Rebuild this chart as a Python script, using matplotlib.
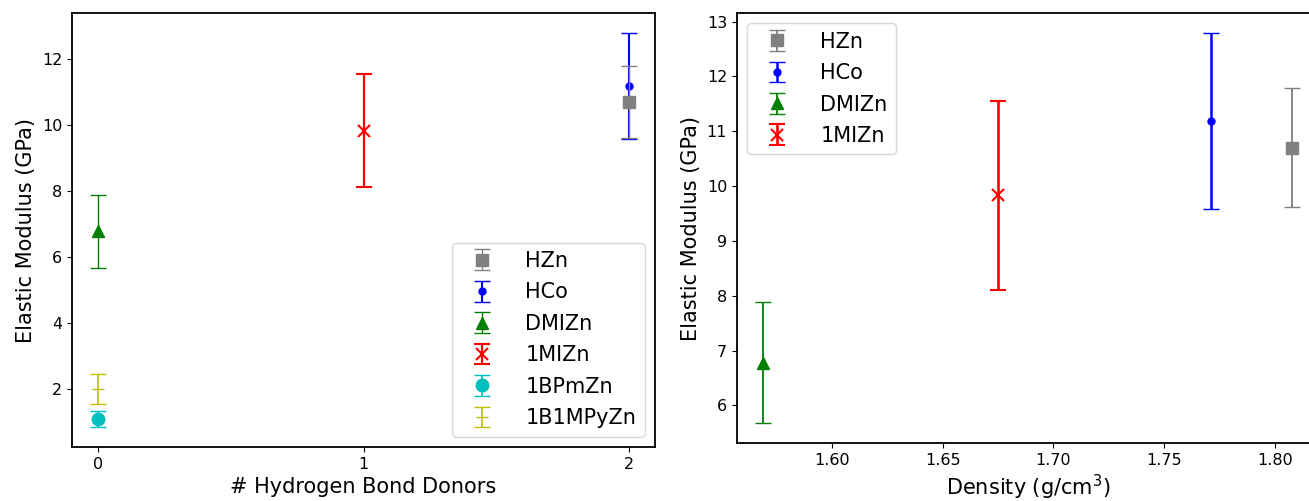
import matplotlib
matplotlib.use("Agg")
import matplotlib.pyplot as plt

# data
names = ["HZn", "HCo", "DMIZn", "1MIZn", "1BPmZn", "1B1MPyZn"]
donors = [2, 2, 0, 1, 0, 0]
modulus = [10.70, 11.19, 6.78, 9.83, 1.09, 2.00]
mod_err = [1.09, 1.61, 1.11, 1.72, 0.25, 0.46]

dens_names = ["HZn", "HCo", "DMIZn", "1MIZn"]
density = [1.808, 1.771, 1.569, 1.675]
dens_mod = [10.70, 11.19, 6.78, 9.83]
dens_err = [1.09, 1.61, 1.11, 1.72]

colors = {"HZn": "gray", "HCo": "b", "DMIZn": "g", "1MIZn": "r",
          "1BPmZn": "c", "1B1MPyZn": "y"}
markers = {"HZn": "s", "HCo": "o", "DMIZn": "^", "1MIZn": "x",
           "1BPmZn": "o", "1B1MPyZn": "_"}
msizes = {"HZn": 9, "HCo": 5, "DMIZn": 9, "1MIZn": 8, "1BPmZn": 9, "1B1MPyZn": 8}
lws = {"HZn": 1.0, "HCo": 1.5, "DMIZn": 1.0, "1MIZn": 1.6, "1BPmZn": 1.2, "1B1MPyZn": 1.2}
zord = {"HZn": 4, "HCo": 3, "DMIZn": 3, "1MIZn": 3, "1BPmZn": 3, "1B1MPyZn": 3}

fig = plt.figure(figsize=(13.09, 5.01), dpi=100)
ax1 = fig.add_axes([0.055, 0.1078, 0.4454, 0.8662])
ax2 = fig.add_axes([0.563, 0.1158, 0.4446, 0.8582])

for n, x, y, e in zip(names, donors, modulus, mod_err):
    ax1.errorbar(x, y, yerr=e, fmt=markers[n], color=colors[n], ms=msizes[n],
                 capsize=6, elinewidth=lws[n], capthick=lws[n], label=n,
                 zorder=zord[n], mew=1.5 if n == "1MIZn" else 1)

for n, x, y, e in zip(dens_names, density, dens_mod, dens_err):
    ax2.errorbar(x, y, yerr=e, fmt=markers[n], color=colors[n], ms=msizes[n],
                 capsize=6, elinewidth=lws[n] + 0.3, capthick=lws[n] + 0.3,
                 label=n, mew=1.5 if n == "1MIZn" else 1)

ax1.set_xticks([0, 1, 2])
ax1.set_xlabel("# Hydrogen Bond Donors", fontsize=15)
ax1.set_ylabel("Elastic Modulus (GPa)", fontsize=15)
ax1.legend(loc="lower right", fontsize=15, handletextpad=1.1, labelspacing=0.55)

ax2.set_xticks([1.60, 1.65, 1.70, 1.75, 1.80])
ax2.set_xlabel("Density (g/cm$^3$)", fontsize=15)
ax2.set_ylabel("Elastic Modulus (GPa)", fontsize=15)
ax2.legend(loc="upper left", fontsize=15, handletextpad=1.1, labelspacing=0.55)

for ax in (ax1, ax2):
    ax.tick_params(labelsize=11.5)
    for s in ax.spines.values():
        s.set_linewidth(1.3)

fig.savefig("out.png", dpi=100)
